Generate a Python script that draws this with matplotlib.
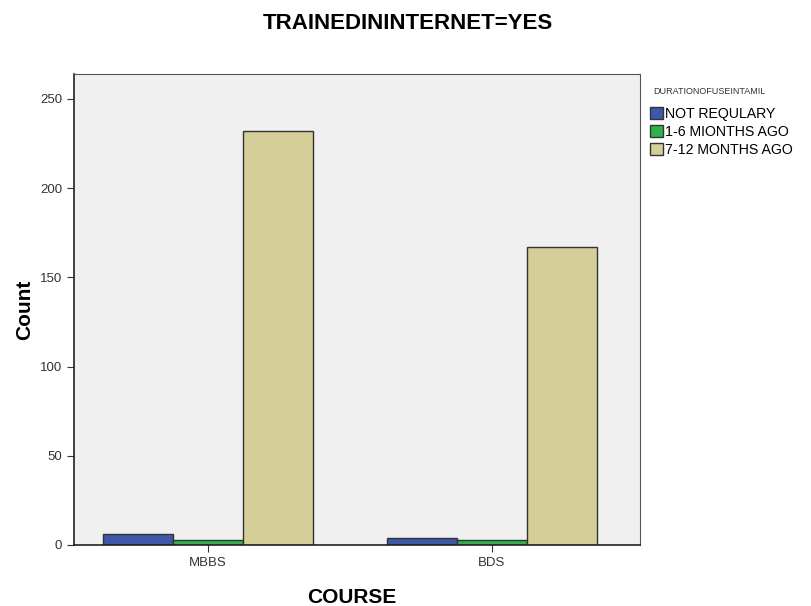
import matplotlib
matplotlib.use("Agg")
import matplotlib.pyplot as plt
import numpy as np
from matplotlib.patches import Patch

plt.rcParams['font.family'] = ['Liberation Sans', 'DejaVu Sans']

courses = ["MBBS", "BDS"]
durations = ["NOT REQULARY", "1-6 MIONTHS AGO", "7-12 MONTHS AGO"]
not_regularly = [6, 4]
one_to_six = [3, 3]
seven_to_twelve = [232, 167]
series = [not_regularly, one_to_six, seven_to_twelve]
colors = ["#3d58a8", "#2fb24b", "#d4cf98"]

fig = plt.figure(figsize=(8.11, 6.06), dpi=100)
ax = fig.add_axes([0.0912, 0.1007, 0.6978, 0.7773])
ax.set_facecolor("#f0f0f0")

x = np.arange(len(courses))
width = 0.2465
for i, vals in enumerate(series):
    ax.bar(x + (i - 1) * width, vals, width, color=colors[i],
           edgecolor="#333333", linewidth=1.0, zorder=2)

ax.set_xlim(-0.472, 1.521)
ax.set_ylim(0, 264)
ax.set_yticks([0, 50, 100, 150, 200, 250])
ax.set_xticks(x)
ax.set_xticklabels(courses)
ax.tick_params(labelsize=9.5, color="#333333", length=5, labelcolor="#333333")
for side in ["top", "right"]:
    ax.spines[side].set_color("#555555")
    ax.spines[side].set_linewidth(0.8)
for side in ["left", "bottom"]:
    ax.spines[side].set_color("#222222")
    ax.spines[side].set_linewidth(1.2)

ax.set_xlabel("COURSE", fontsize=15, fontweight="bold")
ax.xaxis.set_label_coords(0.49, -0.091)
ax.set_ylabel("Count", fontsize=15, fontweight="bold", labelpad=4)
fig.text(0.503, 0.962, "TRAINEDININTERNET=YES", ha="center", va="center",
         fontsize=16, fontweight="bold")

# legend title placed separately to get the spacing right
fig.text(0.806, 1 - 91 / 606, "DURATIONOFUSEINTAMIL", ha="left", va="center",
         fontsize=6.5, color="#333333")
handles = [Patch(facecolor=c, edgecolor="#333333", label=l) for c, l in zip(colors, durations)]
leg = fig.legend(handles=handles, loc="upper left", bbox_to_anchor=(0.7926, 1 - 100 / 606),
                 frameon=False, fontsize=10.2, handlelength=0.95, handleheight=0.95,
                 handletextpad=0.15, labelspacing=0.28, borderpad=0.0)

fig.savefig("out.png", dpi=100)
